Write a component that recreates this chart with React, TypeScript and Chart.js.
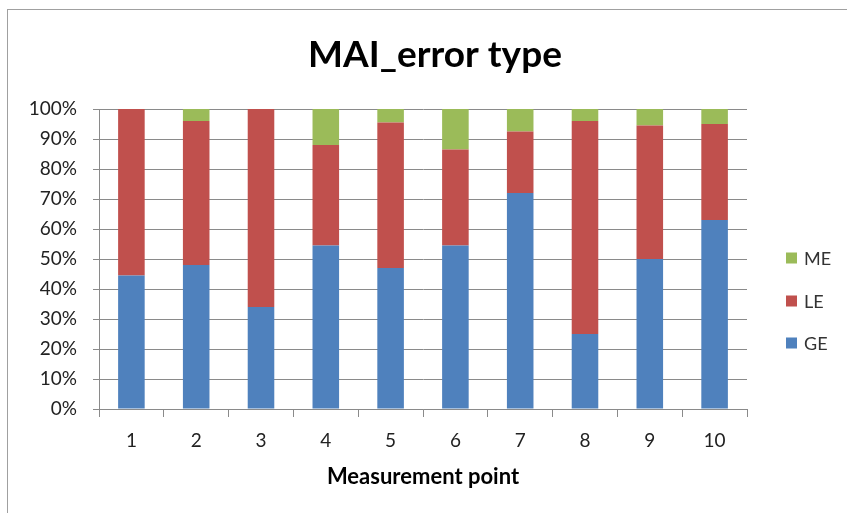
import React, { useEffect, useRef } from "react";
import { Chart, registerables } from "chart.js";

Chart.register(...registerables);

const categories = ["1", "2", "3", "4", "5", "6", "7", "8", "9", "10"];
const geValues = [44.5, 48, 34, 54.5, 47, 54.5, 72, 25, 50, 63];
const leValues = [55.5, 48, 66, 33.5, 48.5, 32, 20.5, 71, 44.5, 32];
const meValues = [0, 4, 0, 12, 4.5, 13.5, 7.5, 4, 5.5, 5];
const seriesNames = ["GE", "LE", "ME"];
const chartTitle = "MAI_error type";
const xTitle = "Measurement point";

const FONT = "Lato, 'Open Sans', sans-serif";

const sideLegend = {
  id: "sideLegend",
  afterDraw(chart: any) {
    const { ctx, chartArea } = chart;
    const items = chart.data.datasets
      .filter((d: any) => d.label)
      .map((d: any) => ({ label: d.label, color: d.backgroundColor }))
      .reverse();
    const x0 = chartArea.right + 39;
    const centers = [258, 301, 343];
    ctx.save();
    ctx.font = `18px ${FONT}`;
    ctx.textBaseline = "middle";
    ctx.textAlign = "left";
    items.forEach((it: any, i: number) => {
      const cy = centers[i];
      ctx.fillStyle = it.color;
      ctx.fillRect(x0, cy - 5.5, 11, 11);
      ctx.fillStyle = "#333";
      ctx.fillText(it.label, x0 + 18, cy + 1);
    });
    ctx.restore();
  },
};

export default function App() {
  const ref = useRef<HTMLCanvasElement | null>(null);
  useEffect(() => {
    if (!ref.current) return;
    const colors = ["#4F81BD", "#C0504D", "#9BBB59"];
    const values = [geValues, leValues, meValues];
    const chart = new Chart(ref.current, {
      type: "bar",
      data: {
        labels: categories,
        datasets: seriesNames.map((n, i) => ({
          label: n,
          data: values[i],
          backgroundColor: colors[i],
          borderWidth: 0,
          barPercentage: 0.41,
          categoryPercentage: 1,
          yAxisID: "y",
        })),
      },
      options: {
        animation: false,
        responsive: false,
        layout: { padding: { left: 23, right: 0, top: 0, bottom: 0 } },
        plugins: {
          legend: { display: false },
          tooltip: { enabled: false },
          title: {
            display: true,
            text: chartTitle,
            color: "#000",
            font: { family: FONT, size: 37, weight: "bold", lineHeight: 1.2 },
            padding: { top: 32.8, bottom: 31.8 },
          },
        },
        scales: {
          x: {
            stacked: true,
            grid: { offset: true, drawOnChartArea: false, drawTicks: true, tickLength: 8, color: "#8a8a8a" },
            border: { display: true, color: "#8a8a8a" },
            ticks: { color: "#222", font: { family: FONT, size: 19 }, padding: 12, maxRotation: 0 },
            title: {
              display: true,
              text: xTitle,
              color: "#000",
              font: { family: FONT, size: 22, weight: "bold", lineHeight: 1.2 },
              padding: { top: 0, bottom: 23 },
            },
            afterFit(scale: any) {
              scale.height = 104;
            },
          },
          y: {
            stacked: true,
            min: 0,
            max: 100,
            grid: { color: "#8a8a8a", tickLength: 6, drawTicks: true },
            border: { display: true, color: "#8a8a8a" },
            ticks: {
              stepSize: 10,
              color: "#222",
              font: { family: FONT, size: 19 },
              padding: 16,
              callback: (v: any) => `${v}%`,
            },
            afterFit(scale: any) {
              scale.width = 76;
            },
          },
          yRight: {
            position: "right",
            display: true,
            min: 0,
            max: 100,
            grid: { display: false, drawTicks: false },
            border: { display: false },
            ticks: { display: false },
            afterFit(scale: any) {
              scale.width = 100;
            },
          },
        },
      },
      plugins: [sideLegend],
    });
    return () => chart.destroy();
  }, []);

  return (
    <div style={{ position: "fixed", left: 0, top: 0, width: 847, height: 513, background: "#fff" }}>
      <div
        style={{
          position: "absolute",
          left: 7,
          top: 9,
          width: 860,
          height: 520,
          borderTop: "1px solid #a0a0a0",
          borderLeft: "1px solid #a0a0a0",
        }}
      />
      <canvas ref={ref} width={847} height={513} style={{ position: "absolute", left: 0, top: 0, display: "block" }} />
    </div>
  );
}
